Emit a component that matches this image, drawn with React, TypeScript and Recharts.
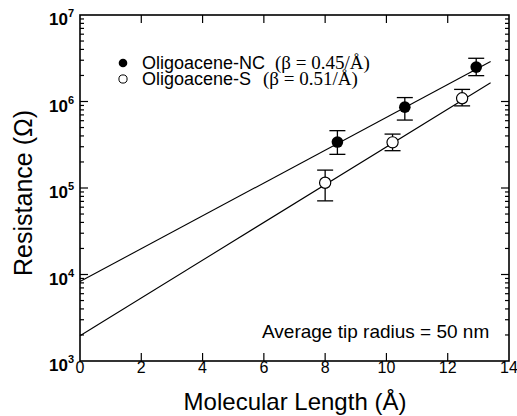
import React from 'react';
import { ComposedChart, Scatter, XAxis, YAxis, ErrorBar } from 'recharts';

// Oligoacene-NC (filled)
const ncLength = [8.4, 10.6, 12.93];
const ncResistance = [3.4e5, 8.6e5, 2.5e6];
const ncLow = [2.45e5, 6.1e5, 1.99e6];
const ncHigh = [4.6e5, 1.11e6, 3.16e6];

// Oligoacene-S (open)
const sLength = [8.0, 10.2, 12.47];
const sResistance = [1.15e5, 3.37e5, 1.09e6];
const sLow = [7.1e4, 2.7e5, 8.9e5];
const sHigh = [1.61e5, 4.2e5, 1.38e6];

// fitted lines
const fitLength = [0, 13.4];
const ncFit = [8.3e3, 2.9e6];
const sFit = [1.96e3, 1.65e6];

const xTicks = [0, 2, 4, 6, 8, 10, 12, 14];
const yDecades = [1e3, 1e4, 1e5, 1e6, 1e7];
const minorSteps = [2, 3, 4, 5, 6, 7, 8, 9];

const X_MIN = 0;
const X_MAX = 14;
const Y_MIN = 1e3;
const Y_MAX = 1e7;

// plot box (chart size minus margins / axis sizes)
const W = 517;
const H = 416;
const M = { top: 15, right: 8, bottom: 0, left: 0 };
const Y_AXIS_W = 80;
const X_AXIS_H = 55;
const PL = M.left + Y_AXIS_W;
const PR = W - M.right;
const PT = M.top;
const PB = H - M.bottom - X_AXIS_H;

const yTicks: number[] = [];
yDecades.forEach((d, i) => {
    yTicks.push(d);
    if (i < yDecades.length - 1) minorSteps.forEach((m) => yTicks.push(d * m));
});

const withErr = (xs: number[], ys: number[], lo: number[], hi: number[]) =>
    xs.map((x, i) => ({ x, y: ys[i], err: [ys[i] - lo[i], hi[i] - ys[i]] }));
const ncData = withErr(ncLength, ncResistance, ncLow, ncHigh);
const sData = withErr(sLength, sResistance, sLow, sHigh);
const ncFitData = fitLength.map((x, i) => ({ x, y: ncFit[i] }));
const sFitData = fitLength.map((x, i) => ({ x, y: sFit[i] }));

const SANS = "'Liberation Sans', Arial, sans-serif";
const SERIF = "'Liberation Serif', 'Times New Roman', serif";

const isDecade = (v: number) => {
    const e = Math.round(Math.log10(v));
    return Math.abs(v - Math.pow(10, e)) < 1e-6 * v;
};

// same mapping as the chart's axes, for the frame ticks
const px = (x: number) => PL + ((x - X_MIN) / (X_MAX - X_MIN)) * (PR - PL);
const py = (v: number) =>
    PT + ((Math.log10(Y_MAX) - Math.log10(v)) / (Math.log10(Y_MAX) - Math.log10(Y_MIN))) * (PB - PT);

const LeftTick = (props: any) => {
    const { x, y, payload } = props;
    const v = payload.value;
    if (!isDecade(v)) return <g />;
    return (
        <text x={x - 6} y={y + 10} textAnchor="end" fontFamily={SANS} fontWeight="bold" fontSize={17} fill="#000">
            10<tspan dy={-8} fontSize={11}>{Math.round(Math.log10(v))}</tspan>
        </text>
    );
};

const BottomTick = (props: any) => {
    const { x, y, payload } = props;
    return (
        <text x={x} y={y + 12} textAnchor="middle" fontFamily={SANS} fontSize={16} fill="#000">
            {payload.value}
        </text>
    );
};

const FilledDot = (p: any) => <circle cx={p.cx} cy={p.cy} r={5.8} fill="#000" />;
const OpenDot = (p: any) => <circle cx={p.cx} cy={p.cy} r={5.6} fill="#fff" stroke="#000" strokeWidth={1.2} />;
const NoDot = () => <g />;

const App: React.FC = () => {
    const innerY = yTicks.filter((v) => v > Y_MIN && v < Y_MAX);
    const innerX = xTicks.filter((v) => v > X_MIN && v < X_MAX);
    return (
        <div style={{ position: 'relative', width: W, height: H }}>
            <style>{'body{margin:0}'}</style>
            <ComposedChart width={W} height={H} margin={M}>
                <XAxis
                    xAxisId="bottom"
                    type="number"
                    dataKey="x"
                    domain={[X_MIN, X_MAX]}
                    ticks={xTicks}
                    interval={0}
                    height={X_AXIS_H}
                    tickSize={0}
                    tickMargin={0}
                    tickLine={false}
                    axisLine={false}
                    tick={<BottomTick />}
                />
                <YAxis
                    yAxisId="left"
                    type="number"
                    dataKey="y"
                    scale="log"
                    domain={[Y_MIN, Y_MAX]}
                    ticks={yTicks}
                    interval={0}
                    allowDataOverflow
                    width={Y_AXIS_W}
                    tickSize={0}
                    tickMargin={0}
                    tickLine={false}
                    axisLine={false}
                    tick={<LeftTick />}
                />

                {/* fitted lines */}
                <Scatter
                    data={ncFitData}
                    xAxisId="bottom"
                    yAxisId="left"
                    line={{ stroke: '#000', strokeWidth: 1.1 }}
                    shape={<NoDot />}
                    isAnimationActive={false}
                />
                <Scatter
                    data={sFitData}
                    xAxisId="bottom"
                    yAxisId="left"
                    line={{ stroke: '#000', strokeWidth: 1.1 }}
                    shape={<NoDot />}
                    isAnimationActive={false}
                />

                {/* measured points */}
                <Scatter data={ncData} xAxisId="bottom" yAxisId="left" shape={<FilledDot />} isAnimationActive={false}>
                    <ErrorBar dataKey="err" direction="y" width={8} stroke="#000" strokeWidth={1.3} isAnimationActive={false} />
                </Scatter>
                <Scatter data={sData} xAxisId="bottom" yAxisId="left" shape={<OpenDot />} isAnimationActive={false}>
                    <ErrorBar dataKey="err" direction="y" width={8} stroke="#000" strokeWidth={1.3} isAnimationActive={false} />
                </Scatter>
            </ComposedChart>

            <svg width={W} height={H} style={{ position: 'absolute', left: 0, top: 0, pointerEvents: 'none' }}>
                {/* frame */}
                <rect x={PL} y={PT} width={PR - PL} height={PB - PT} fill="none" stroke="#000" strokeWidth={1.6} />
                {/* inward ticks, left and right */}
                {innerY.map((v) => {
                    const len = isDecade(v) ? 8 : 4;
                    return (
                        <g key={`y${v}`}>
                            <line x1={PL} x2={PL + len} y1={py(v)} y2={py(v)} stroke="#000" strokeWidth={1.2} />
                            <line x1={PR} x2={PR - len} y1={py(v)} y2={py(v)} stroke="#000" strokeWidth={1.2} />
                        </g>
                    );
                })}
                {/* inward ticks, bottom and top */}
                {innerX.map((v) => (
                    <g key={`x${v}`}>
                        <line x1={px(v)} x2={px(v)} y1={PB} y2={PB - 8} stroke="#000" strokeWidth={1.2} />
                        <line x1={px(v)} x2={px(v)} y1={PT} y2={PT + 8} stroke="#000" strokeWidth={1.2} />
                    </g>
                ))}

                <circle cx={123} cy={63} r={4.3} fill="#000" />
                <text x={142} y={69} fontFamily={SANS} fontSize={18} fill="#000">Oligoacene-NC</text>
                <text x={275} y={69} fontFamily={SERIF} fontSize={19} fill="#000">(β = 0.45/Å)</text>
                <circle cx={123} cy={79} r={4.1} fill="#fff" stroke="#000" strokeWidth={1} />
                <text x={142} y={85} fontFamily={SANS} fontSize={18} fill="#000">Oligoacene-S</text>
                <text x={263} y={85} fontFamily={SERIF} fontSize={19} fill="#000">(β = 0.51/Å)</text>

                <text x={262} y={338} fontFamily={SANS} fontSize={19} fill="#000">
                    Average tip radius = 50 nm
                </text>

                <text x={32} y={193} transform="rotate(-90 32 193)" textAnchor="middle" fontFamily={SANS} fontSize={25} fill="#000">
                    Resistance (Ω)
                </text>
                <text x={295} y={410} textAnchor="middle" fontFamily={SANS} fontSize={24} fill="#000">
                    Molecular Length (Å)
                </text>
            </svg>
        </div>
    );
};

export default App;
